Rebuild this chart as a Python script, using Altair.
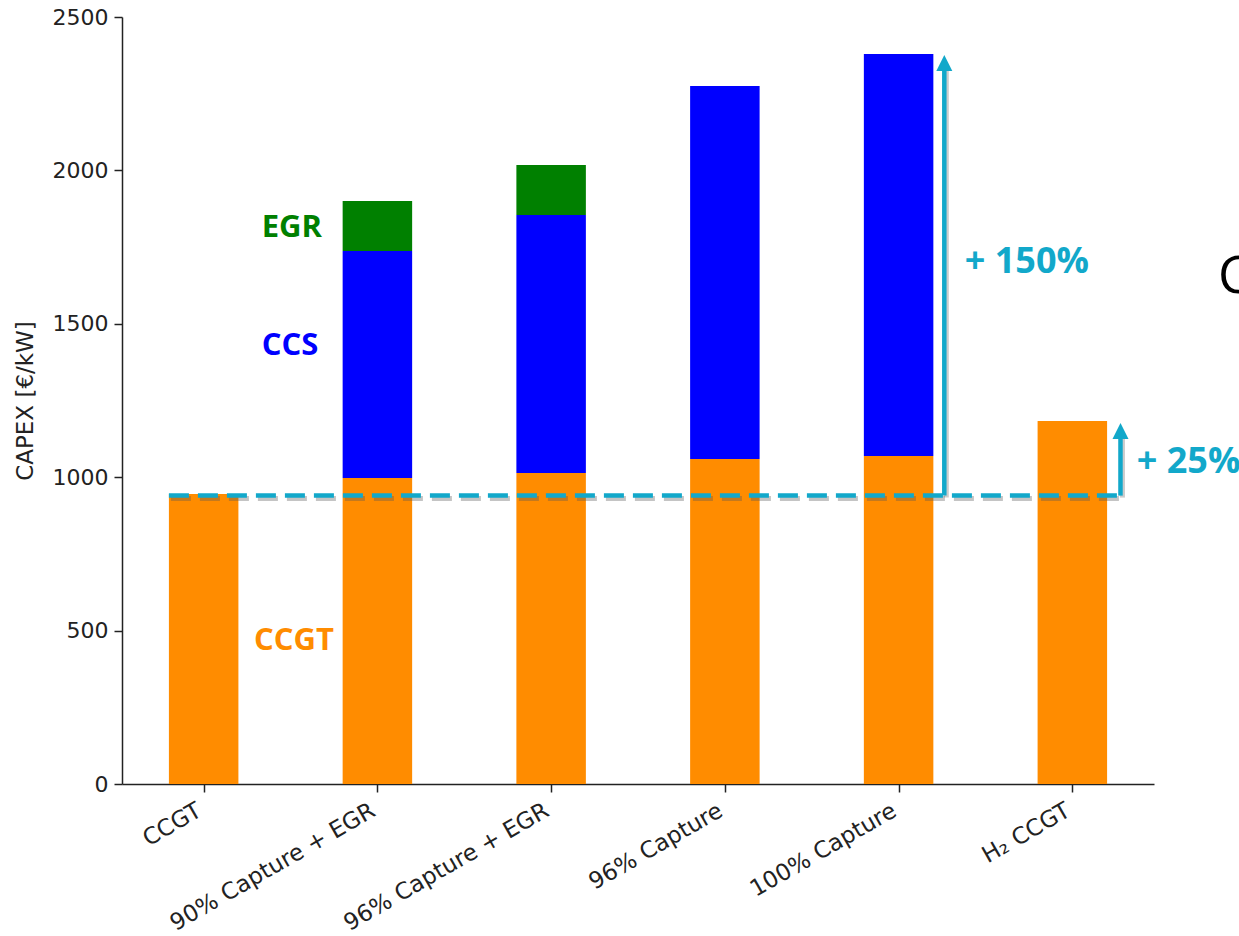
import json
import altair as alt
import pandas as pd

# ---------------- data ----------------
categories = ["CCGT", "90% Capture + EGR", "96% Capture + EGR",
              "96% Capture", "100% Capture", "H₂ CCGT"]
ccgt_part = [945, 997, 1014, 1059, 1069, 1183]
ccs_part = [0, 740, 841, 1216, 1310, 0]
egr_part = [0, 163, 163, 0, 0, 0]

segments = ["CCGT", "CCS", "EGR"]
seg_colors = ["#FF8C00", "#0000FF", "#008000"]

y_ticks = [0, 500, 1000, 1500, 2000, 2500]

# annotation values (data units)
baseline_value = 940
dash_x_start = -0.2
dash_x_end = 5.277
arrow_x = [4.263, 5.277]
arrow_tip = [2376, 1177]
arrow_line_top = [2334, 1130]
pct_labels = ["+ 150%", "+ 25%"]
pct_x = [4.381, 5.371]
pct_y = [1703, 1051]

seg_labels = ["EGR", "CCS", "CCGT"]
seg_label_x = [0.334, 0.334, 0.29]
seg_label_y = [1812, 1429, 466]

side_text = ["C"]
side_x = [5.838]
side_y = [1654]

CYAN = "#12A8CA"

# ---------------- build tables ----------------
rows = []
for i, cat in enumerate(categories):
    base = 0
    for seg, vals in zip(segments, [ccgt_part, ccs_part, egr_part]):
        v = vals[i]
        if v > 0:
            rows.append(dict(idx=i, x0=i - 0.2, x1=i + 0.2, seg=seg,
                             y0=base, y1=base + v))
            base += v
bars_df = pd.DataFrame(rows)

xscale = alt.Scale(domain=[-0.47, 5.47], nice=False, zero=False)
yscale = alt.Scale(domain=[0, 2500], nice=False)

label_expr = json.dumps(categories, ensure_ascii=False) + "[datum.value]"

x_axis = alt.Axis(values=list(range(len(categories))), labelExpr=label_expr,
                  title=None, grid=False, tickSize=8, tickColor="#222",
                  domainColor="#222", domainWidth=1.5, tickWidth=1.5,
                  labelFont="DejaVu Sans", labelFontSize=23, labelColor="#222",
                  labelAngle=-30, labelAlign="right", labelBaseline="top",
                  labelPadding=7, labelOffset=-10, labelOverlap=False,
                  labelLimit=500)
y_axis = alt.Axis(values=y_ticks, format="d", title="CAPEX [€/kW]", grid=False,
                  tickSize=8, tickColor="#222", domainColor="#222",
                  domainWidth=1.5, tickWidth=1.5,
                  labelFont="DejaVu Sans", labelFontSize=22, labelColor="#222",
                  labelPadding=6, titleFont="DejaVu Sans", titleFontSize=23,
                  titleFontWeight="normal", titleColor="#222", titlePadding=15)

bars = alt.Chart(bars_df).mark_bar().encode(
    x=alt.X("x0:Q", scale=xscale, axis=x_axis),
    x2="x1:Q",
    y=alt.Y("y0:Q", scale=yscale, axis=y_axis),
    y2="y1:Q",
    color=alt.Color("seg:N", scale=alt.Scale(domain=segments, range=seg_colors),
                    legend=None),
)

dash_df = pd.DataFrame({"x": [dash_x_start], "x2": [dash_x_end],
                        "y": [baseline_value]})
dash_shadow = alt.Chart(dash_df).mark_rule(
    color="#555", opacity=0.35, strokeWidth=5, strokeDash=[20, 9],
    xOffset=2, yOffset=3).encode(
    x=alt.X("x:Q", scale=xscale), x2="x2:Q", y=alt.Y("y:Q", scale=yscale))
dash = alt.Chart(dash_df).mark_rule(
    color=CYAN, strokeWidth=4.5, strokeDash=[20, 9]).encode(
    x=alt.X("x:Q", scale=xscale), x2="x2:Q", y=alt.Y("y:Q", scale=yscale))

arr_df = pd.DataFrame({"x": arrow_x, "y": [baseline_value] * len(arrow_x),
                       "y2": arrow_line_top, "tip": arrow_tip})
arrow_shadow = alt.Chart(arr_df).mark_rule(
    color="#555", opacity=0.3, strokeWidth=5, xOffset=2, yOffset=2).encode(
    x=alt.X("x:Q", scale=xscale), y=alt.Y("y:Q", scale=yscale), y2="y2:Q")
arrow_lines = alt.Chart(arr_df).mark_rule(color=CYAN, strokeWidth=4.5).encode(
    x=alt.X("x:Q", scale=xscale), y=alt.Y("y:Q", scale=yscale), y2="y2:Q")
arrow_heads = alt.Chart(arr_df).mark_point(
    shape="M0,0L1,2L-1,2Z", size=256, filled=True, opacity=1,
    color=CYAN, strokeWidth=0).encode(
    x=alt.X("x:Q", scale=xscale), y=alt.Y("tip:Q", scale=yscale))

pct_df = pd.DataFrame({"x": pct_x, "y": pct_y, "t": pct_labels})
pct_text = alt.Chart(pct_df).mark_text(
    align="left", baseline="middle", font="Open Sans", fontWeight="bold",
    fontSize=36, color=CYAN).encode(
    x=alt.X("x:Q", scale=xscale), y=alt.Y("y:Q", scale=yscale), text="t:N")

seg_df = pd.DataFrame({"x": seg_label_x, "y": seg_label_y, "t": seg_labels,
                       "c": seg_labels})
seg_text = alt.Chart(seg_df).mark_text(
    align="left", baseline="middle", font="Open Sans", fontWeight="bold",
    fontSize=31).encode(
    x=alt.X("x:Q", scale=xscale), y=alt.Y("y:Q", scale=yscale), text="t:N",
    color=alt.Color("c:N", scale=alt.Scale(domain=["EGR", "CCS", "CCGT"],
                                           range=["#008000", "#0000FF", "#FF8C00"]),
                    legend=None))

side_df = pd.DataFrame({"x": side_x, "y": side_y, "t": side_text})
side = alt.Chart(side_df).mark_text(
    align="left", baseline="middle", font="Open Sans", fontSize=52,
    color="#000").encode(
    x=alt.X("x:Q", scale=xscale), y=alt.Y("y:Q", scale=yscale), text="t:N")

chart = alt.layer(
    bars, dash_shadow, dash, arrow_shadow, arrow_lines, arrow_heads,
    pct_text, seg_text, side
).resolve_scale(color="independent").properties(
    width=1032, height=767,
    autosize=alt.AutoSizeParams(type="none"),
    padding={"left": 122, "top": 17, "right": 85, "bottom": 152},
    background="white",
).configure_view(stroke=None)

chart.save("out.html", embed_options={"renderer": "svg", "actions": False})
